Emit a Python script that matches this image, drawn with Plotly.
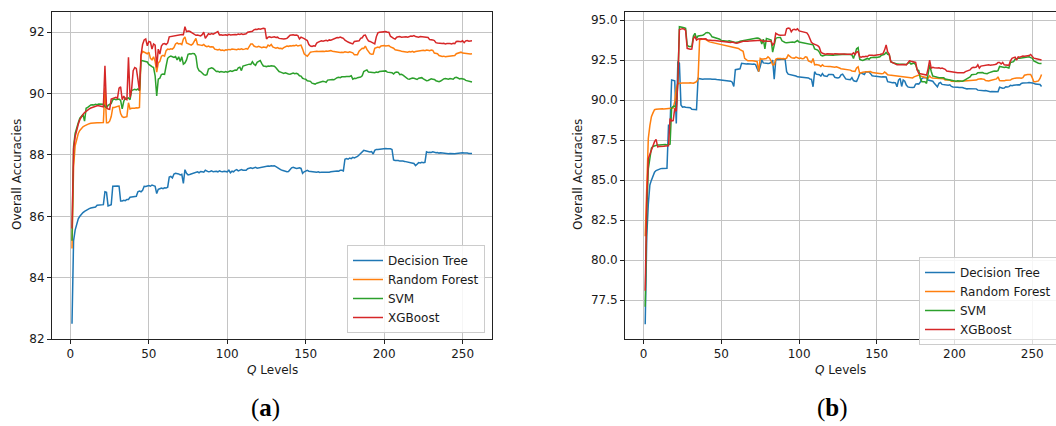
import plotly.graph_objects as go

q_levels = list(range(1, 257))
series_names = ["Decision Tree", "Random Forest", "SVM", "XGBoost"]
series_colors = ["#1f77b4", "#ff7f0e", "#2ca02c", "#d62728"]

# ---------------- panel (a) ----------------
a_dt = [
 82.50, 85.20, 85.55, 85.75, 85.92, 86.00, 86.08, 86.12, 86.16, 86.20, 86.23, 86.25, 86.27, 86.28, 86.28, 86.30,
 86.36, 86.36, 86.37, 86.37, 86.38, 86.80, 86.78, 86.34, 86.36, 86.38, 86.98, 86.99, 86.98, 86.99, 86.98, 86.50,
 86.50, 86.52, 86.51, 86.55, 86.55, 86.62, 86.63, 86.64, 86.63, 86.65, 86.80, 86.82, 86.80, 86.85, 86.98, 86.97,
 86.99, 87.00, 86.98, 87.02, 87.00, 86.98, 86.74, 86.88, 86.90, 86.92, 86.90, 86.93, 86.92, 86.95, 87.28, 87.30,
 87.25, 87.38, 87.40, 87.40, 87.38, 87.35, 87.37, 87.07, 87.52, 87.40, 87.35, 87.36, 87.38, 87.38, 87.40, 87.42,
 87.45, 87.42, 87.46, 87.45, 87.44, 87.50, 87.46, 87.45, 87.46, 87.48, 87.45, 87.46, 87.47, 87.45, 87.48, 87.46,
 87.45, 87.47, 87.46, 87.45, 87.50, 87.42, 87.47, 87.45, 87.50, 87.52, 87.48, 87.50, 87.52, 87.50, 87.51, 87.50,
 87.55, 87.56, 87.58, 87.56, 87.58, 87.60, 87.57, 87.58, 87.60, 87.61, 87.62, 87.63, 87.62, 87.64, 87.63, 87.65,
 87.64, 87.65, 87.62, 87.58, 87.55, 87.52, 87.50, 87.48, 87.47, 87.45, 87.46, 87.52, 87.58, 87.60, 87.58, 87.56,
 87.57, 87.58, 87.56, 87.40, 87.45, 87.48, 87.50, 87.47, 87.46, 87.45, 87.46, 87.45, 87.44, 87.45, 87.43, 87.44,
 87.44, 87.42, 87.43, 87.42, 87.44, 87.45, 87.46, 87.45, 87.47, 87.48, 87.47, 87.50, 87.50, 87.48, 87.86, 87.88,
 87.86, 87.90, 87.88, 87.92, 87.90, 87.92, 87.95, 88.00, 88.05, 88.10, 88.15, 88.14, 88.12, 88.12, 88.10, 88.11,
 88.03, 88.15, 88.18, 88.18, 88.19, 88.19, 88.20, 88.20, 88.21, 88.20, 88.21, 88.20, 88.18, 87.84, 87.82, 87.83,
 87.82, 87.80, 87.81, 87.80, 87.79, 87.78, 87.78, 87.76, 87.74, 87.73, 87.72, 87.65, 87.72, 87.75, 87.74, 87.76,
 87.75, 87.76, 88.10, 88.08, 88.09, 88.08, 88.10, 88.08, 88.07, 88.08, 88.06, 88.07, 88.06, 88.05, 88.04, 88.05,
 88.04, 88.05, 88.04, 88.05, 88.04, 88.05, 88.06, 88.05, 88.06, 88.07, 88.06, 88.07, 88.06, 88.05, 88.05, 88.05]

a_rf = [
 84.95, 87.60, 88.30, 88.55, 88.70, 88.80, 88.88, 88.92, 88.95, 88.98, 89.00, 89.02, 89.03, 89.04, 89.04, 89.05,
 89.05, 89.05, 89.06, 89.05, 89.06, 90.20, 89.05, 89.05, 89.10, 89.25, 89.55, 89.55, 89.56, 89.58, 89.60, 89.35,
 89.25, 89.22, 89.24, 89.25, 89.70, 89.50, 89.52, 89.51, 89.52, 89.54, 89.53, 89.55, 91.25, 91.38, 91.35, 91.34,
 91.30, 91.35, 91.15, 91.10, 91.20, 91.05, 90.70, 91.00, 91.05, 91.22, 91.25, 91.22, 91.40, 91.45, 91.44, 91.46,
 91.45, 91.50, 91.62, 91.65, 91.62, 91.63, 91.60, 91.78, 91.85, 91.65, 91.62, 91.60, 91.58, 91.62, 91.70, 91.80,
 91.60, 91.58, 91.58, 91.57, 91.60, 91.55, 91.53, 91.55, 91.52, 91.53, 91.52, 91.45, 91.43, 91.42, 91.44, 91.41,
 91.42, 91.40, 91.43, 91.42, 91.44, 91.43, 91.45, 91.44, 91.42, 91.43, 91.45, 91.44, 91.46, 91.44, 91.45, 91.47,
 91.45, 91.56, 91.62, 91.62, 91.55, 91.53, 91.52, 91.54, 91.53, 91.50, 91.52, 91.51, 91.50, 91.58, 91.55, 91.60,
 91.52, 91.50, 91.48, 91.50, 91.47, 91.48, 91.46, 91.50, 91.52, 91.55, 91.54, 91.56, 91.55, 91.57, 91.56, 91.58,
 91.55, 91.56, 91.58, 91.45, 91.30, 91.25, 91.22, 91.28, 91.35, 91.36, 91.37, 91.36, 91.38, 91.37, 91.38, 91.39,
 91.38, 91.37, 91.39, 91.38, 91.39, 91.40, 91.38, 91.37, 91.36, 91.35, 91.36, 91.34, 91.35, 91.34, 91.36, 91.35,
 91.34, 91.36, 91.35, 91.33, 91.27, 91.26, 91.27, 91.38, 91.45, 91.48, 91.47, 91.55, 91.44, 91.35, 91.30, 91.28,
 91.29, 91.48, 91.50, 91.52, 91.50, 91.55, 91.56, 91.57, 91.55, 91.56, 91.57, 91.52, 91.50, 91.48, 91.43, 91.42,
 91.43, 91.40, 91.38, 91.37, 91.38, 91.36, 91.35, 91.37, 91.36, 91.38, 91.35, 91.37, 91.38, 91.37, 91.38, 91.40,
 91.41, 91.40, 91.42, 91.41, 91.40, 91.42, 91.41, 91.32, 91.31, 91.30, 91.24, 91.22, 91.21, 91.22, 91.20, 91.21,
 91.22, 91.21, 91.22, 91.23, 91.24, 91.30, 91.32, 91.33, 91.35, 91.32, 91.31, 91.32, 91.30, 91.29, 91.29, 91.30]

a_svm = [
 85.20, 88.27, 88.70, 88.92, 89.05, 89.20, 89.25, 89.32, 89.10, 89.52, 89.55, 89.60, 89.63, 89.64, 89.63, 89.65,
 89.64, 89.66, 89.65, 89.64, 89.65, 89.58, 89.54, 89.62, 89.65, 89.68, 89.80, 89.82, 89.80, 89.81, 89.82, 89.78,
 89.50, 89.75, 89.85, 89.84, 89.86, 89.80, 90.10, 90.12, 90.14, 90.12, 90.15, 90.10, 91.08, 91.07, 91.05, 91.04,
 91.03, 90.95, 90.90, 90.88, 90.85, 90.58, 89.92, 90.47, 90.50, 90.62, 90.64, 90.63, 90.90, 91.15, 91.20, 91.22,
 91.20, 91.18, 91.21, 91.10, 91.20, 91.05, 91.20, 90.96, 91.00, 91.10, 91.28, 91.30, 91.29, 91.31, 91.30, 91.22,
 90.85, 90.75, 90.72, 90.66, 90.62, 90.60, 90.62, 90.80, 90.82, 90.84, 90.82, 90.75, 90.72, 90.73, 90.70, 90.72,
 90.71, 90.70, 90.72, 90.70, 90.72, 90.74, 90.72, 90.76, 90.77, 90.76, 90.84, 90.86, 90.75, 90.90, 90.92, 90.94,
 90.95, 90.96, 90.95, 91.04, 90.96, 90.92, 91.02, 91.05, 91.08, 90.98, 90.90, 90.89, 90.88, 90.90, 90.89, 90.91,
 90.90, 90.89, 90.84, 90.78, 90.72, 90.70, 90.68, 90.66, 90.68, 90.65, 90.64, 90.63, 90.66, 90.67, 90.65, 90.66,
 90.64, 90.58, 90.57, 90.50, 90.48, 90.47, 90.42, 90.42, 90.40, 90.34, 90.32, 90.31, 90.34, 90.36, 90.37, 90.38,
 90.40, 90.39, 90.37, 90.44, 90.45, 90.44, 90.46, 90.45, 90.50, 90.52, 90.53, 90.52, 90.55, 90.54, 90.55, 90.56,
 90.55, 90.56, 90.58, 90.47, 90.50, 90.49, 90.52, 90.53, 90.54, 90.58, 90.72, 90.75, 90.77, 90.70, 90.69, 90.70,
 90.69, 90.68, 90.70, 90.69, 90.72, 90.73, 90.74, 90.75, 90.74, 90.70, 90.69, 90.70, 90.68, 90.64, 90.69, 90.70,
 90.69, 90.62, 90.63, 90.60, 90.55, 90.50, 90.48, 90.47, 90.50, 90.51, 90.50, 90.47, 90.46, 90.50, 90.51, 90.52,
 90.48, 90.44, 90.42, 90.43, 90.47, 90.48, 90.47, 90.46, 90.42, 90.40, 90.39, 90.41, 90.46, 90.48, 90.49, 90.48,
 90.47, 90.49, 90.48, 90.47, 90.52, 90.53, 90.51, 90.48, 90.49, 90.48, 90.47, 90.43, 90.42, 90.41, 90.40, 90.38]

a_xgb = [
 85.60, 88.20, 88.60, 88.85, 89.00, 89.15, 89.25, 89.32, 89.38, 89.43, 89.47, 89.50, 89.53, 89.55, 89.57, 89.58,
 89.60, 89.60, 89.59, 89.58, 89.57, 90.91, 89.54, 89.50, 89.49, 89.82, 89.85, 89.86, 89.88, 89.85, 90.18, 90.22,
 89.80, 89.92, 89.82, 89.80, 91.18, 89.87, 90.14, 90.75, 90.85, 90.82, 90.47, 90.10, 91.25, 91.60, 91.75, 91.78,
 91.56, 91.70, 91.68, 91.45, 91.62, 91.58, 90.85, 91.45, 91.29, 91.55, 91.62, 91.63, 91.60, 91.65, 91.85, 91.86,
 91.88, 91.87, 91.90, 91.89, 91.92, 91.91, 91.93, 91.92, 92.18, 92.02, 92.04, 92.03, 92.00, 91.95, 91.93, 91.90,
 91.91, 91.90, 91.88, 91.92, 92.00, 91.80, 91.90, 91.95, 91.93, 91.96, 91.94, 91.97, 91.98, 92.02, 91.91, 91.92,
 91.90, 91.91, 91.92, 91.90, 91.93, 91.91, 91.92, 91.94, 91.93, 91.92, 91.94, 91.93, 91.95, 91.93, 91.94, 91.95,
 92.00, 92.01, 92.02, 92.03, 92.08, 92.10, 92.09, 92.11, 92.10, 92.12, 92.13, 92.12, 91.78, 91.84, 91.85, 91.83,
 91.84, 91.85, 91.83, 91.84, 91.80, 91.79, 91.80, 91.78, 91.79, 91.80, 91.85, 91.90, 91.91, 91.92, 91.90, 91.91,
 91.89, 91.78, 91.84, 91.80, 91.79, 91.76, 91.73, 91.60, 91.55, 91.54, 91.56, 91.55, 91.65, 91.68, 91.70, 91.72,
 91.71, 91.73, 91.74, 91.72, 91.75, 91.74, 91.76, 91.80, 91.82, 91.83, 91.82, 91.84, 91.82, 91.80, 91.74, 91.70,
 91.68, 91.66, 91.64, 91.62, 91.70, 91.71, 91.70, 91.72, 91.80, 91.82, 91.90, 91.91, 91.80, 91.72, 91.70, 91.68,
 91.65, 91.62, 91.85, 91.98, 92.00, 92.01, 92.00, 92.01, 92.02, 92.00, 92.00, 91.87, 91.82, 91.80, 91.78, 91.84,
 91.85, 91.86, 91.84, 91.85, 91.86, 91.85, 91.84, 91.86, 91.88, 91.87, 91.89, 91.86, 91.85, 91.84, 91.86, 91.85,
 91.84, 91.85, 91.84, 91.83, 91.76, 91.76, 91.75, 91.73, 91.66, 91.65, 91.64, 91.65, 91.63, 91.64, 91.62, 91.63,
 91.64, 91.63, 91.62, 91.64, 91.63, 91.70, 91.71, 91.70, 91.69, 91.72, 91.66, 91.72, 91.73, 91.71, 91.72, 91.72]

# ---------------- panel (b) ----------------
b_dt = [
 76.00, 81.50, 83.50, 84.70, 85.00, 85.30, 85.50, 85.60, 85.65, 85.70, 85.72, 85.73, 85.74, 85.73, 85.74, 88.44,
 88.45, 91.25, 91.22, 91.20, 88.54, 92.40, 92.30, 89.70, 89.56, 89.58, 89.55, 89.54, 89.56, 89.52, 89.42, 89.40,
 89.41, 89.40, 91.35, 91.32, 91.33, 91.30, 91.31, 91.32, 91.30, 91.33, 91.31, 91.30, 91.32, 91.30, 91.28, 91.27,
 91.25, 91.22, 91.21, 91.22, 91.20, 91.21, 91.20, 91.18, 91.12, 90.85, 91.90, 91.92, 91.90, 91.95, 92.30, 92.28,
 92.26, 92.25, 92.27, 92.25, 92.26, 92.24, 92.25, 92.22, 91.98, 91.78, 92.10, 92.50, 92.32, 92.30, 92.31, 92.28,
 92.30, 92.35, 92.50, 91.30, 92.50, 92.55, 92.54, 92.56, 92.55, 92.57, 92.55, 91.77, 91.62, 91.60, 91.58, 91.56,
 91.55, 91.50, 91.45, 91.44, 91.42, 91.43, 91.40, 91.42, 91.41, 91.38, 91.32, 91.30, 90.83, 91.77, 91.62, 91.60,
 91.58, 91.50, 91.65, 91.52, 91.50, 91.48, 91.60, 91.62, 91.60, 91.58, 91.42, 91.40, 91.38, 91.42, 91.58, 91.62,
 91.45, 91.32, 91.30, 91.28, 91.27, 91.40, 91.22, 91.18, 91.17, 91.38, 91.65, 91.68, 91.62, 91.60, 91.77, 91.78,
 91.76, 91.65, 91.52, 91.50, 91.48, 91.47, 91.46, 91.45, 91.44, 91.46, 91.45, 91.44, 91.15, 91.12, 91.10, 91.08,
 91.10, 91.08, 90.83, 91.25, 91.35, 90.85, 91.25, 91.18, 90.94, 90.82, 90.80, 90.78, 90.79, 90.80, 91.00, 91.02,
 91.00, 91.12, 91.35, 91.40, 91.42, 91.41, 91.25, 91.22, 91.20, 91.18, 91.05, 90.90, 90.83, 91.05, 91.10, 90.98,
 90.96, 90.95, 90.94, 90.93, 90.95, 90.85, 90.82, 90.80, 90.81, 90.80, 90.79, 90.80, 90.78, 90.75, 90.72, 90.70,
 90.71, 90.70, 90.72, 90.69, 90.68, 90.70, 90.62, 90.60, 90.61, 90.59, 90.58, 90.60, 90.57, 90.55, 90.52, 90.53,
 90.52, 90.50, 90.51, 90.52, 90.80, 90.76, 90.74, 90.75, 90.83, 90.82, 90.84, 90.92, 90.90, 90.93, 90.95, 90.94,
 90.96, 90.95, 91.04, 91.06, 91.08, 91.07, 91.08, 91.09, 91.08, 91.07, 91.05, 91.00, 90.99, 91.00, 90.97, 90.85]

b_rf = [
 81.50, 85.50, 87.60, 88.40, 88.96, 89.20, 89.40, 89.42, 89.44, 89.45, 89.45, 89.46, 89.45, 89.46, 89.45, 89.46,
 89.45, 89.46, 89.50, 89.90, 90.73, 91.04, 91.06, 91.05, 91.07, 91.06, 91.05, 91.04, 91.06, 91.08, 91.07, 91.05,
 91.10, 91.15, 91.30, 93.75, 93.80, 93.82, 93.80, 93.78, 93.70, 93.65, 93.62, 93.60, 93.58, 93.55, 93.52, 93.50,
 93.48, 93.46, 93.45, 93.40, 93.38, 93.37, 93.35, 93.33, 93.32, 93.30, 93.28, 93.25, 93.22, 93.15, 93.10, 93.05,
 92.60, 92.55, 92.45, 92.46, 92.47, 92.45, 92.44, 92.42, 92.40, 91.77, 92.60, 92.55, 92.56, 92.55, 92.60, 92.70,
 92.62, 92.45, 92.20, 92.22, 92.55, 92.60, 92.62, 92.60, 92.58, 92.60, 92.57, 92.62, 92.82, 92.70, 92.65, 92.63,
 92.62, 92.68, 92.65, 92.60, 92.62, 92.58, 92.60, 92.70, 92.68, 92.45, 92.40, 92.35, 92.60, 92.20, 92.22, 92.20,
 92.18, 92.10, 92.20, 92.12, 92.10, 92.11, 92.09, 92.10, 92.08, 92.10, 92.05, 92.08, 92.02, 92.00, 91.96, 91.95,
 91.94, 91.92, 91.90, 91.88, 91.87, 91.82, 91.80, 91.79, 92.00, 92.08, 91.67, 91.72, 91.74, 91.75, 91.76, 91.78,
 91.80, 91.79, 91.72, 91.70, 91.68, 91.66, 91.65, 91.66, 91.64, 91.65, 91.75, 91.68, 91.58, 91.56, 91.55, 91.54,
 91.52, 91.50, 91.48, 91.47, 91.48, 91.46, 91.48, 91.47, 91.46, 91.45, 91.42, 91.40, 91.38, 91.45, 91.50, 91.52,
 91.56, 91.50, 91.48, 91.45, 91.40, 91.38, 91.36, 91.50, 91.40, 91.38, 91.37, 91.36, 91.35, 91.36, 91.34, 91.35,
 91.33, 91.26, 91.25, 91.24, 91.25, 91.18, 91.17, 91.16, 91.17, 91.18, 91.16, 91.17, 91.18, 91.20, 91.19, 91.18,
 91.20, 91.22, 91.25, 91.24, 91.26, 91.25, 91.30, 91.32, 91.33, 91.31, 91.30, 91.22, 91.20, 91.19, 91.22, 91.25,
 91.28, 91.30, 91.32, 91.45, 91.22, 91.20, 91.19, 91.20, 91.24, 91.25, 91.26, 91.25, 91.32, 91.36, 91.37, 91.38,
 91.36, 91.38, 91.37, 91.40, 91.55, 91.58, 91.60, 91.59, 91.60, 91.40, 91.15, 91.14, 91.16, 91.20, 91.35, 91.60]

b_svm = [
 77.10, 83.00, 85.70, 86.56, 87.00, 87.10, 87.15, 87.18, 87.20, 87.20, 87.21, 87.20, 87.21, 87.22, 87.20, 87.22,
 87.25, 89.50, 89.60, 89.62, 89.55, 91.15, 94.58, 94.56, 94.55, 94.52, 94.48, 93.44, 93.35, 93.33, 93.34, 94.00,
 94.17, 93.85, 94.00, 94.02, 94.03, 94.05, 94.10, 94.20, 94.22, 94.20, 94.10, 93.95, 93.92, 93.90, 93.88, 93.85,
 93.80, 93.72, 93.70, 93.72, 93.70, 93.68, 93.70, 93.67, 93.66, 93.62, 93.60, 93.61, 93.62, 93.68, 93.70, 93.72,
 93.74, 93.73, 93.75, 93.78, 93.80, 93.82, 93.85, 93.86, 93.87, 93.86, 93.80, 93.50, 93.80, 93.20, 93.85, 93.82,
 93.80, 93.75, 93.00, 93.50, 93.85, 93.90, 93.92, 93.91, 93.70, 93.62, 93.60, 93.58, 93.60, 93.62, 93.64, 93.62,
 93.60, 93.65, 93.72, 93.62, 93.60, 93.58, 93.60, 93.56, 93.55, 93.50, 93.50, 93.48, 93.45, 93.20, 93.15, 93.12,
 93.00, 92.80, 92.75, 92.80, 92.82, 92.81, 92.80, 92.82, 92.81, 92.80, 92.82, 92.83, 92.84, 92.85, 92.86, 92.84,
 92.85, 92.86, 92.84, 92.86, 92.85, 92.82, 92.60, 92.90, 93.20, 93.27, 92.55, 92.50, 92.48, 92.52, 92.55, 92.60,
 92.55, 92.65, 92.66, 92.68, 92.67, 92.66, 92.68, 92.70, 92.80, 92.84, 92.86, 92.98, 92.85, 92.83, 92.40, 92.35,
 92.32, 92.25, 92.26, 92.25, 92.24, 92.26, 92.25, 92.24, 92.22, 92.30, 92.36, 92.25, 92.30, 92.32, 92.20, 91.90,
 91.85, 91.35, 91.15, 91.14, 91.15, 91.04, 91.80, 92.20, 91.80, 91.50, 91.48, 91.47, 91.42, 91.40, 91.41, 91.38,
 91.40, 91.32, 91.30, 91.28, 91.27, 91.22, 91.20, 91.19, 91.18, 91.20, 91.19, 91.18, 91.17, 91.22, 91.28, 91.30,
 91.35, 91.45, 91.58, 91.60, 91.62, 91.62, 91.70, 91.72, 91.73, 91.72, 91.68, 91.66, 91.65, 91.70, 91.75, 91.78,
 91.80, 91.82, 91.80, 91.84, 92.10, 92.08, 92.05, 92.04, 92.06, 92.05, 92.00, 92.35, 92.38, 92.40, 92.55, 92.60,
 92.62, 92.61, 92.63, 92.65, 92.68, 92.70, 92.71, 92.70, 92.65, 92.62, 92.45, 92.40, 92.33, 92.30, 92.29, 92.28]

b_xgb = [
 78.10, 83.80, 86.35, 86.60, 86.90, 87.20, 87.40, 87.55, 87.08, 87.10, 87.12, 87.11, 87.12, 87.13, 87.12, 87.14,
 88.85, 88.70, 88.72, 89.48, 89.30, 91.15, 94.40, 94.45, 94.46, 94.44, 94.35, 93.23, 93.18, 93.17, 93.18, 93.85,
 93.96, 93.75, 93.82, 93.84, 93.83, 93.82, 93.84, 93.83, 93.75, 93.72, 93.73, 93.72, 93.70, 93.72, 93.71, 93.70,
 93.68, 93.65, 93.63, 93.62, 93.64, 93.62, 93.63, 93.60, 93.62, 93.57, 93.56, 93.55, 93.58, 93.65, 93.68, 93.67,
 93.68, 93.70, 93.68, 93.69, 93.70, 93.68, 93.70, 93.72, 93.73, 93.74, 93.72, 93.73, 93.65, 93.70, 93.68, 93.69,
 93.70, 93.68, 93.44, 93.55, 94.17, 94.10, 94.06, 94.05, 94.04, 94.05, 94.06, 94.45, 94.50, 94.48, 94.27, 94.40,
 94.42, 94.38, 94.45, 94.32, 94.30, 94.28, 94.25, 94.22, 94.20, 94.06, 93.80, 93.60, 93.52, 93.48, 93.45, 93.40,
 93.30, 93.00, 92.92, 92.88, 92.87, 92.89, 92.88, 92.86, 92.88, 92.87, 92.90, 92.88, 92.86, 92.88, 92.87, 92.89,
 92.88, 92.86, 92.85, 92.88, 92.87, 92.86, 92.95, 92.85, 93.00, 93.02, 92.70, 92.68, 92.72, 92.70, 92.73, 92.72,
 92.80, 92.82, 92.80, 92.78, 92.79, 92.80, 92.84, 92.85, 92.88, 92.90, 93.12, 93.44, 93.00, 92.88, 92.40, 92.35,
 92.30, 92.22, 92.20, 92.21, 92.22, 92.20, 92.21, 92.22, 92.20, 92.30, 92.45, 92.42, 92.40, 92.38, 92.35, 91.87,
 91.67, 91.65, 91.62, 91.63, 91.60, 91.56, 91.95, 92.50, 92.00, 92.05, 92.02, 92.00, 92.01, 92.02, 91.98, 92.00,
 91.96, 91.92, 91.82, 91.80, 91.79, 91.80, 91.78, 91.75, 91.72, 91.70, 91.71, 91.70, 91.69, 91.70, 91.78, 91.82,
 91.85, 91.88, 92.00, 92.05, 92.04, 92.06, 92.20, 92.00, 92.12, 92.14, 92.15, 92.16, 92.18, 92.20, 92.18, 92.21,
 92.20, 92.22, 92.25, 92.35, 92.35, 92.25, 92.35, 92.20, 92.18, 92.16, 92.17, 92.45, 92.60, 92.65, 92.68, 92.50,
 92.70, 92.68, 92.72, 92.75, 92.74, 92.76, 92.75, 92.78, 92.85, 92.70, 92.62, 92.60, 92.58, 92.56, 92.52, 92.50]

panel_a = [a_dt, a_rf, a_svm, a_xgb]
panel_b = [b_dt, b_rf, b_svm, b_xgb]

W, H = 1056, 426
FONT = "DejaVu Sans"
TXT = "#1a1a1a"

fig = go.Figure()
for name, col, ys in zip(series_names, series_colors, panel_a):
    fig.add_trace(go.Scatter(x=q_levels, y=ys, mode="lines", name=name,
                             line=dict(color=col, width=1.5), xaxis="x", yaxis="y",
                             legend="legend"))
for name, col, ys in zip(series_names, series_colors, panel_b):
    fig.add_trace(go.Scatter(x=q_levels, y=ys, mode="lines", name=name,
                             line=dict(color=col, width=1.5), xaxis="x2", yaxis="y2",
                             legend="legend2"))

def px_x(p):
    return p / W

def px_y(p):
    return 1 - p / H

axis_common = dict(showgrid=True, gridcolor="#c4c4c4", gridwidth=1,
                   showline=True, linecolor="#222222", linewidth=1,
                   ticks="outside", ticklen=4, tickcolor="#222222", tickwidth=1,
                   tickfont=dict(family=FONT, size=12, color=TXT), zeroline=False)

fig.update_layout(
    width=W, height=H,
    margin=dict(l=0, r=0, t=0, b=0, autoexpand=False),
    paper_bgcolor="white", plot_bgcolor="white",
    showlegend=True,
    xaxis=dict(domain=[px_x(52), px_x(492)], range=[-11.75, 268.75],
               tickvals=[0, 50, 100, 150, 200, 250], anchor="y", mirror=True, **axis_common),
    yaxis=dict(domain=[px_y(339), px_y(12)], range=[82.0, 92.66],
               tickvals=[82, 84, 86, 88, 90, 92], anchor="x", mirror=True, **axis_common),
    xaxis2=dict(domain=[px_x(625), 1.0], range=[-12, 265.3],
                tickvals=[0, 50, 100, 150, 200, 250], anchor="y2", mirror=True, **axis_common),
    yaxis2=dict(domain=[px_y(339), px_y(12)], range=[75.08, 95.5],
                tickvals=[77.5, 80.0, 82.5, 85.0, 87.5, 90.0, 92.5, 95.0], tickformat=".1f",
                anchor="x2", mirror=False, **axis_common),
    legend=dict(x=px_x(485), y=px_y(333), xanchor="right", yanchor="bottom",
                bgcolor="rgba(255,255,255,0.85)", bordercolor="#cccccc", borderwidth=1,
                font=dict(family=FONT, size=12, color=TXT), tracegroupgap=0, itemwidth=30),
    legend2=dict(x=px_x(919), y=px_y(257), xanchor="left", yanchor="top",
                 bgcolor="rgba(255,255,255,0.85)", bordercolor="#cccccc", borderwidth=1,
                 font=dict(family=FONT, size=12, color=TXT), tracegroupgap=0, itemwidth=30),
)

annots = [
    dict(text="<i>Q</i> Levels", x=px_x(272), y=px_y(370)),
    dict(text="<i>Q</i> Levels", x=px_x(840), y=px_y(370)),
    dict(text="Overall Accuracies", x=px_x(17), y=px_y(175), textangle=-90),
    dict(text="Overall Accuracies", x=px_x(578), y=px_y(175), textangle=-90),
]
for a in annots:
    fig.add_annotation(xref="paper", yref="paper", showarrow=False,
                       xanchor="center", yanchor="middle",
                       font=dict(family=FONT, size=12, color=TXT), **a)

for lbl, cx in [("(<b>a</b>)", 265), ("(<b>b</b>)", 832)]:
    fig.add_annotation(xref="paper", yref="paper", showarrow=False,
                       text=lbl, x=px_x(cx), y=px_y(408), xanchor="center", yanchor="middle",
                       font=dict(family="Liberation Serif", size=25, color="#000000"))

fig.write_html("out.html")
